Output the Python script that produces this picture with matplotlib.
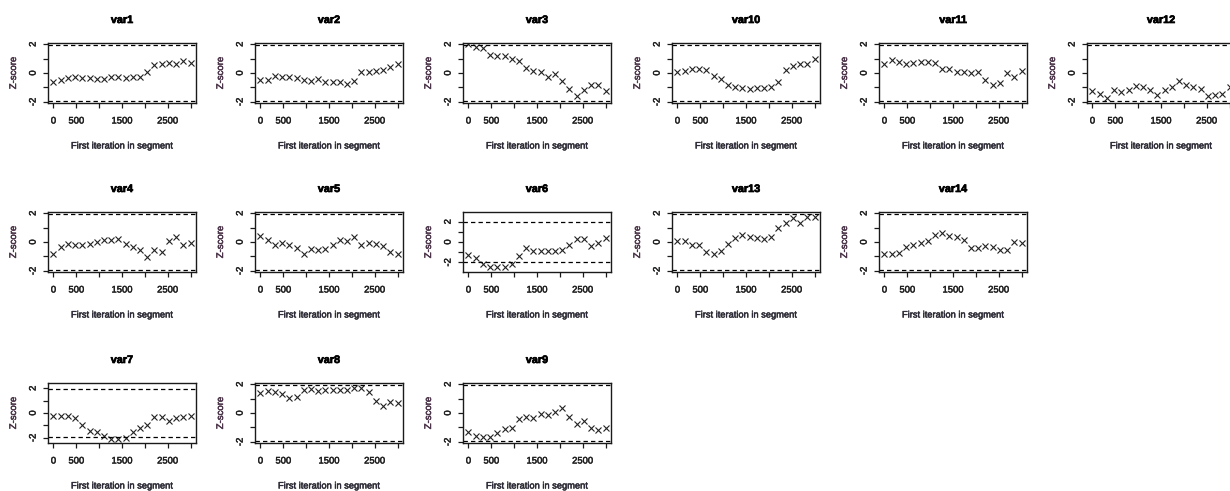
import numpy as np
import matplotlib
matplotlib.use("Agg")
import matplotlib.pyplot as plt
import matplotlib.patheffects as pe

plt.rcParams['font.family'] = ['Liberation Sans', 'DejaVu Sans']

# first iteration of each segment (20 bins over the first half of the chain)
iters = [0, 158, 316, 474, 632, 789, 947, 1105, 1263, 1421,
         1579, 1737, 1895, 2053, 2211, 2368, 2526, 2684, 2842, 3000]

# Geweke Z-scores per variable
var1 = [-0.62, -0.5, -0.38, -0.3, -0.32, -0.38, -0.4, -0.45, -0.25, -0.25,
        -0.35, -0.27, -0.27, 0.1, 0.58, 0.62, 0.68, 0.6, 0.82, 0.7]
var2 = [-0.5, -0.5, -0.2, -0.25, -0.3, -0.38, -0.5, -0.58, -0.45, -0.62,
        -0.62, -0.62, -0.78, -0.55, 0.05, 0.05, 0.15, 0.22, 0.4, 0.62]
var3 = [2.0, 1.8, 1.72, 1.28, 1.15, 1.2, 1.0, 0.82, 0.35, 0.15,
        0.05, -0.28, -0.05, -0.52, -1.1, -1.58, -1.18, -0.82, -0.82, -1.25]
var4 = [-0.8, -0.35, -0.15, -0.2, -0.2, -0.15, 0.02, 0.17, 0.17, 0.2,
        -0.15, -0.33, -0.55, -1.02, -0.57, -0.67, 0.05, 0.32, -0.2, -0.1]
var5 = [0.45, 0.17, -0.2, -0.07, -0.2, -0.43, -0.8, -0.5, -0.57, -0.5,
        -0.2, 0.17, 0.1, 0.33, -0.2, -0.07, -0.15, -0.3, -0.67, -0.8]
var6 = [-1.3, -1.6, -2.18, -2.46, -2.5, -2.5, -2.18, -1.34, -0.58, -0.9,
        -0.9, -0.9, -0.9, -0.8, -0.32, 0.32, 0.26, -0.38, -0.1, 0.38]
var7 = [-0.27, -0.27, -0.27, -0.4, -0.94, -1.42, -1.53, -1.88, -2.07, -2.1,
        -2.0, -1.56, -1.21, -0.94, -0.32, -0.35, -0.67, -0.4, -0.35, -0.27]
var8 = [1.36, 1.5, 1.43, 1.31, 1.03, 1.14, 1.61, 1.66, 1.5, 1.61,
        1.61, 1.61, 1.61, 1.7, 1.73, 1.43, 0.84, 0.49, 0.77, 0.68]
var9 = [-1.3, -1.62, -1.67, -1.67, -1.38, -1.14, -1.02, -0.43, -0.26, -0.38,
        -0.07, -0.14, 0.1, 0.33, -0.31, -0.74, -0.55, -1.07, -1.19, -1.07]
var10 = [0.05, 0.15, 0.28, 0.28, 0.22, -0.22, -0.4, -0.8, -0.95, -1.07,
         -1.12, -1.07, -1.07, -0.95, -0.6, 0.22, 0.48, 0.62, 0.62, 0.95]
var11 = [0.6, 0.9, 0.78, 0.6, 0.66, 0.78, 0.78, 0.7, 0.3, 0.3,
         0.1, 0.1, 0.0, 0.1, -0.5, -0.8, -0.68, -0.02, -0.25, 0.17]
var12 = [-1.25, -1.45, -1.72, -1.2, -1.32, -1.2, -0.88, -0.95, -1.2, -1.52,
         -1.2, -0.95, -0.55, -0.82, -0.95, -1.12, -1.6, -1.52, -1.48, -0.95]
var13 = [0.05, 0.05, -0.2, -0.2, -0.67, -0.86, -0.62, -0.14, 0.29, 0.52,
         0.38, 0.29, 0.21, 0.38, 1.0, 1.29, 1.64, 1.29, 1.72, 1.72]
var14 = [-0.8, -0.86, -0.74, -0.38, -0.19, -0.07, 0.1, 0.52, 0.64, 0.45,
         0.38, 0.17, -0.43, -0.43, -0.26, -0.38, -0.57, -0.55, -0.02, -0.1]

# panel grid: (name, values, row, col)
panels = [
    ("var1", var1, 0, 0), ("var2", var2, 0, 1), ("var3", var3, 0, 2),
    ("var10", var10, 0, 3), ("var11", var11, 0, 4), ("var12", var12, 0, 5),
    ("var4", var4, 1, 0), ("var5", var5, 1, 1), ("var6", var6, 1, 2),
    ("var13", var13, 1, 3), ("var14", var14, 1, 4),
    ("var7", var7, 2, 0), ("var8", var8, 2, 1), ("var9", var9, 2, 2),
]

# a couple of panels got a wider y range
ylim_override = {"var6": 2.95, "var7": 2.42}

W, H = 1230, 491
fig = plt.figure(figsize=(W / 100, H / 100), dpi=100)

col_left = [48, 255, 463, 672, 879, 1087]
row_top = [43, 212, 383]
bw, bh = 148, 60

# slightly heavier text strokes
heavy = [pe.withStroke(linewidth=0.35, foreground="#333333")]

for name, z, r, c in panels:
    left = col_left[c]
    top = row_top[r]
    ax = fig.add_axes([left / W, (H - top - bh) / H, bw / W, bh / H])
    z = np.array(z)
    ax.plot(iters, z, linestyle="none", marker="x", markersize=4.2,
            mew=0.8, color="#222222")
    ax.axhline(1.96, color="black", lw=0.9, ls=(0, (3.5, 2.5)))
    ax.axhline(-1.96, color="black", lw=0.9, ls=(0, (3.5, 2.5)))

    ylimit = ylim_override.get(name, 1.04 * max(2.0, np.abs(z).max()))
    ax.set_ylim(-ylimit, ylimit)
    ax.set_xlim(-120, 3120)

    ax.set_xticks([0, 500, 1000, 1500, 2000, 2500, 3000])
    ax.set_xticklabels(["0", "500", "", "1500", "", "2500", ""])
    ax.set_yticks([-2, -1, 0, 1, 2])
    ax.set_yticklabels(["-2", "", "0", "", "2"], rotation=90, va="center")
    ax.tick_params(axis="both", direction="out", length=3.5, width=0.9,
                   labelsize=6.8, colors="#1a1a1a")
    ax.tick_params(axis="x", pad=6.2)
    ax.tick_params(axis="y", pad=4)
    for lab in ax.get_xticklabels() + ax.get_yticklabels():
        lab.set_path_effects(heavy)

    for sp in ax.spines.values():
        sp.set_linewidth(1.0)
        sp.set_color("#1a1a1a")

    ax.text(0.5, 1 + 23 / bh, name, transform=ax.transAxes, ha="center",
            va="center", fontsize=7.8, fontweight="bold", color="black",
            path_effects=[pe.withStroke(linewidth=0.5, foreground="black")])
    ax.text(0.5, -43 / bh, "First iteration in segment", transform=ax.transAxes,
            ha="center", va="center", fontsize=6.7, color="#2b2838",
            path_effects=heavy)
    ax.text(-35 / bw, 0.5, "Z-score", transform=ax.transAxes, ha="center",
            va="center", rotation=90, fontsize=6.9, color="#4a3348",
            path_effects=[pe.withStroke(linewidth=0.35, foreground="#4a3348")])

fig.savefig("out.png", dpi=100)
